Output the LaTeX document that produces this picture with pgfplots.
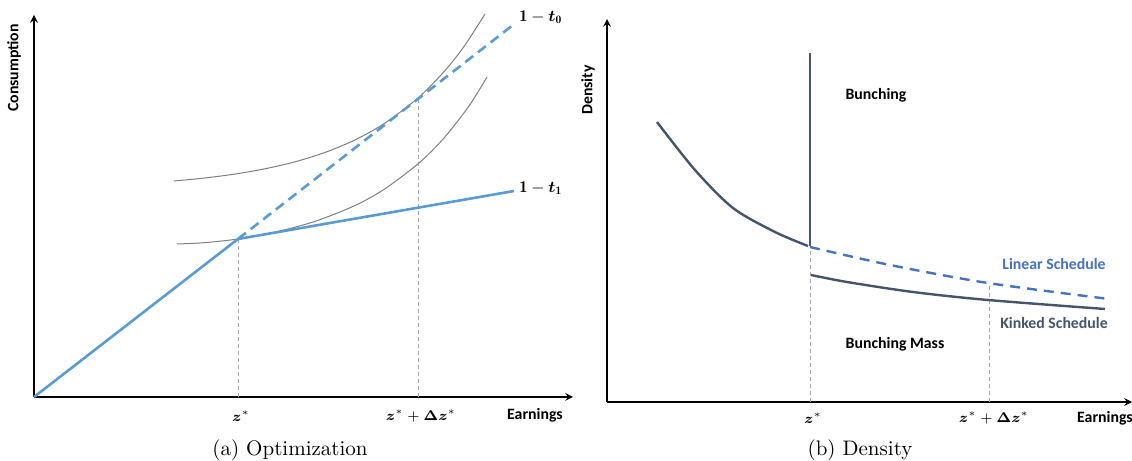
\documentclass[border=0pt]{standalone}
\usepackage{amsmath}
\usepackage{fontspec}
\usepackage{pgfplots}
\pgfplotsset{compat=1.18}
\usetikzlibrary{arrows.meta}
\newfontfamily\calfont{Carlito}
\definecolor{lblue}{HTML}{5B9BD5}
\definecolor{dblue}{HTML}{4472C4}
\definecolor{slate}{HTML}{44546A}
\definecolor{icgray}{HTML}{7F7F7F}
\definecolor{vgray}{HTML}{A6A6A6}
\pgfplotsset{bunch/.style={
  x=0.5pt, y=0.5pt, scale only axis, enlargelimits=false, clip=false,
  axis lines=left, xtick=\empty, ytick=\empty,
  axis line style={line width=0.7pt},
  anchor=south west}}
\tikzset{
  lab/.style={font=\calfont\bfseries\fontsize{7.9}{9}\selectfont},
  mlab/.style={font=\fontsize{7}{8}\selectfont},
  tlab/.style={font=\fontsize{8.2}{10}\selectfont},
  captxt/.style={font=\fontsize{10.5}{12}\selectfont}}
\begin{document}
\begin{tikzpicture}[>={Latex[length=5pt,width=4.5pt]}]
\path[use as bounding box] (0pt,0pt) rectangle (566pt,230.5pt);
% ---------------- (a) Optimization ----------------
\begin{axis}[bunch, at={(17pt,32pt)}, xmin=0, xmax=539, ymin=0, ymax=382]
\addplot[vgray, line width=0.4pt, dash pattern=on 2pt off 1.5pt] coordinates {(204,0) (204,158)};
\addplot[vgray, line width=0.4pt, dash pattern=on 2pt off 1.5pt] coordinates {(384,0) (384,299)};
\addplot[icgray, line width=0.5pt, smooth] coordinates {(140,216) (170,218.9) (200,222.8) (230,228) (260,234.9) (290,244.2) (320,256.6) (350,273.3) (384,299) (410,325.3) (430,350.5) (451,383)};
\addplot[icgray, line width=0.5pt, smooth] coordinates {(143,153) (170,154.3) (204,158) (240,164.6) (280,175.3) (320,191) (350,207.6) (385,234) (410,259) (435,291) (453,320)};
\addplot[lblue, line width=1.3pt, dash pattern=on 5pt off 3pt] coordinates {(204,158) (479,372)};
\addplot[lblue, line width=1.3pt] coordinates {(0,0) (204,158) (480,206)};
\end{axis}
% ---------------- (b) Density ----------------
\begin{axis}[bunch, at={(303.5pt,29.5pt)}, xmin=0, xmax=525, ymin=0, ymax=383]
\addplot[vgray, line width=0.4pt, dash pattern=on 2pt off 1.5pt] coordinates {(203,0) (203,155)};
\addplot[vgray, line width=0.4pt, dash pattern=on 2pt off 1.5pt] coordinates {(382,0) (382,119)};
\addplot[slate, line width=1.2pt, smooth] coordinates {(50,280) (88,232) (126,194) (168,170) (201,156)};
\addplot[slate, line width=1.2pt] coordinates {(203,156) (203,349)};
\addplot[dblue, line width=1.2pt, smooth, dash pattern=on 5pt off 3.5pt] coordinates {(203,155) (283,137) (381,119) (502,103)};
\addplot[slate, line width=1.2pt, smooth] coordinates {(204,127) (240,120) (306,110) (381,102) (498,93)};
\end{axis}
% ---------------- labels (pixel frame, 1px = 0.5pt) ----------------
\begin{scope}[x=0.5pt,y=0.5pt]
\node[tlab, anchor=west, inner sep=0pt] at (519,444) {$\mathbf{1}-\boldsymbol{t}_{\mathbf{0}}$};
\node[tlab, anchor=west, inner sep=0pt] at (519,273) {$\mathbf{1}-\boldsymbol{t}_{\mathbf{1}}$};
\node[mlab] at (241,45) {$\boldsymbol{z}^{*}$};
\node[mlab] at (421,45) {$\boldsymbol{z}^{*}+\boldsymbol{\Delta}\boldsymbol{z}^{*}$};
\node[lab] at (535,46) {Earnings};
\node[lab, rotate=90] at (14,393) {Consumption};
\node[lab] at (876,366) {Bunching};
\node[lab] at (895,117) {Bunching Mass};
\node[lab, text=dblue] at (1054,197) {Linear Schedule};
\node[lab, text=slate] at (1054,138) {Kinked Schedule};
\node[lab, rotate=90] at (588,371) {Density};
\node[mlab] at (813,43) {$\boldsymbol{z}^{*}$};
\node[mlab] at (994,43) {$\boldsymbol{z}^{*}+\boldsymbol{\Delta}\boldsymbol{z}^{*}$};
\node[lab] at (1105,43) {Earnings};
\node[captxt] at (290,11) {(a) Optimization};
\node[captxt] at (860,11) {(b) Density};
\end{scope}
\end{tikzpicture}
\end{document}
